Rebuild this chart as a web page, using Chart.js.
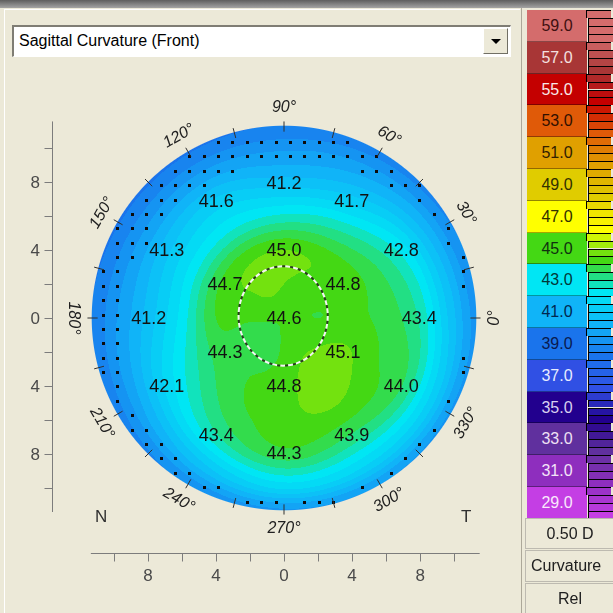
<!DOCTYPE html>
<html>
<head>
<meta charset="utf-8">
<script src="https://cdn.jsdelivr.net/npm/chart.js@4.4.1/dist/chart.umd.min.js"></script>
<style>
  html, body { margin: 0; padding: 0; background: #ece9d8; }
  body { width: 613px; height: 613px; position: relative; overflow: hidden; font-family: "Liberation Sans", Arial, sans-serif; }
  #topbar { position: absolute; left: 0; top: 0; width: 613px; height: 8px; background: linear-gradient(#5e5e5e, #a4a4a4); }
  #panel { position: absolute; left: 4px; top: 9px; width: 516px; height: 604px; border-left: 1px solid #fff; border-top: 1px solid #fff; box-sizing: border-box; }
  #divider { position: absolute; left: 521px; top: 8px; width: 1px; height: 605px; background: #aca899; }
  #chart { position: absolute; left: 0; top: 0; }
  #select { position: absolute; left: 12px; top: 25px; width: 499px; height: 32px; box-sizing: border-box; background: #fff;
            border-top: 2px solid #7f7d74; border-left: 2px solid #7f7d74; border-bottom: 1px solid #fff; border-right: 1px solid #fff;
            font-size: 16px; line-height: 28px; padding-left: 5px; color: #000; }
  #select .btn { position: absolute; right: 2px; top: 1px; width: 25px; height: 26px; box-sizing: border-box; background: #ece9d8;
                 border-top: 1px solid #fff; border-left: 1px solid #fff; border-right: 1px solid #716f64; border-bottom: 1px solid #716f64; }
  #select .btn:after { content: ""; position: absolute; left: 7px; top: 10px; border-left: 5px solid transparent; border-right: 5px solid transparent; border-top: 5px solid #000; }
  .box { position: absolute; left: 527px; width: 60px; box-sizing: border-box; border-bottom: 1px solid rgba(0,0,0,0.35);
         font-size: 16px; text-align: center; }
  .stripe { position: absolute; left: 588px; width: 25px; box-sizing: border-box; border-top: 1px solid #000; border-left: 1px solid #000; }
  .ctl { position: absolute; left: 525px; width: 90px; box-sizing: border-box; border: 1px solid #bdbab0; background: #ece9d8;
         font-size: 16px; color: #202020; white-space: nowrap; overflow: hidden; }
</style>
</head>
<body>
<div id="topbar"></div>
<div id="panel"></div>
<div id="divider"></div>
<canvas id="chart" width="613" height="613"></canvas>
<div id="select">Sagittal Curvature (Front)<div class="btn"></div></div>
<div id="legend"></div>
<div class="ctl" style="top:518px;height:31px;line-height:29px;text-align:center;">0.50 D</div>
<div class="ctl" style="top:550px;height:32px;line-height:30px;padding-left:5px;">Curvature</div>
<div class="ctl" style="top:583px;height:31px;line-height:29px;text-align:center;">Rel</div>
<script>
// colour scale (dioptres) as shown in the legend
const scaleValues = [59, 57, 55, 53, 51, 49, 47, 45, 43, 41, 39, 37, 35, 33, 31, 29]
const scaleColors = ["#d46c6c", "#a83636", "#c40000", "#e05a08", "#e0a000", "#e0cc00", "#ffff00", "#44d814",
                     "#00e6f4", "#10b4f8", "#1a74ec", "#3050e4", "#22008e", "#60309e", "#8e2ebe", "#c43ee4"]
const scaleTextColors = ["#401010", "#f4e0e0", "#f8e8e8", "#301000", "#302000", "#303000", "#303000", "#103010",
                         "#003838", "#002850", "#0a1a50", "#e8ecff", "#d8d0f0", "#eee0f4", "#f4e4f8", "#fae8fc"]
const stepSize = 0.5

// polar samples of the curvature map: radius (mm) x meridian (deg)
const radii = [0, 2, 4, 6, 8, 10, 11.4]
const meridians = [0, 30, 60, 90, 120, 150, 180, 210, 240, 270, 300, 330]
const kCenter = 44.6
const kR2 = [44.5, 44.6, 44.8, 45.0, 45.1, 44.9, 44.6, 44.2, 44.2, 44.6, 44.9, 44.8]
const kR4 = [44.6, 44.8, 44.9, 45.0, 44.9, 44.7, 44.5, 44.3, 44.5, 44.8, 45.3, 45.1]
const kR6 = [44.3, 44.1, 43.5, 43.1, 43.0, 42.8, 42.7, 43.4, 44.3, 44.8, 45.0, 44.6]
const kR8 = [43.4, 42.8, 41.7, 41.2, 41.6, 41.3, 41.2, 42.1, 43.4, 44.3, 43.9, 44.0]
const kR10 = [41.1, 40.7, 40.2, 39.9, 39.9, 39.8, 39.9, 40.3, 41.2, 42.1, 41.9, 41.7]
const kR11 = [39.7, 39.4, 39.2, 39.0, 38.9, 38.9, 39.0, 39.2, 39.5, 39.8, 39.9, 39.8]
const mapRadius = 11.3

// printed readings
const centerReading = 44.6
const innerAngles = [90, 30, 330, 270, 210, 150]
const innerReadings = [45.0, 44.8, 45.1, 44.8, 44.3, 44.7]
const outerAngles = [0, 30, 60, 90, 120, 150, 180, 210, 240, 270, 300, 330]
const outerReadings = [43.4, 42.8, 41.7, 41.2, 41.6, 41.3, 41.2, 42.1, 43.4, 44.3, 43.9, 44.0]
const innerRadius = 4.0
const outerRadius = 7.95

// extrapolated zone (dotted): inner edge radius per meridian
const dotEdge = [10.6, 10.3, 9.6, 8.9, 9.0, 9.2, 9.7, 10.3, 10.4, 10.8, 10.7, 10.8]
const dotStep = 0.845

// axes
const axisTicks = [-10, -8, -6, -4, -2, 0, 2, 4, 6, 8, 10]
const axisLabels = [-8, -4, 0, 4, 8]
const meridianLabels = [0, 30, 60, 90, 120, 150, 180, 210, 240, 270, 300, 330]

// ---------- colour helpers ----------
function hexRgb(h) {
  return [parseInt(h.slice(1, 3), 16), parseInt(h.slice(3, 5), 16), parseInt(h.slice(5, 7), 16)]
}
const anchorRgb = scaleColors.map(hexRgb)

// colour of the 0.5 D band that holds v (taken at the band's upper edge)
function bandRgb(v) {
  const b = Math.floor(v / stepSize) * stepSize + stepSize
  const n = scaleValues.length
  if (b >= scaleValues[0]) return anchorRgb[0]
  if (b <= scaleValues[n - 1]) return anchorRgb[n - 1]
  for (let i = 0; i < n - 1; i++) {
    const hi = scaleValues[i], lo = scaleValues[i + 1]
    if (b <= hi && b >= lo) {
      const t = (b - lo) / (hi - lo)
      const a = anchorRgb[i + 1], c = anchorRgb[i]
      return [0, 1, 2].map(k => Math.round(a[k] + (c[k] - a[k]) * t))
    }
  }
  return anchorRgb[n - 1]
}

// ---------- legend (HTML) ----------
const legend = document.getElementById("legend")
const boxH = 31.8
scaleValues.forEach((v, i) => {
  const top = 10 + i * boxH
  const box = document.createElement("div")
  box.className = "box"
  box.style.top = top + "px"
  box.style.height = boxH + "px"
  box.style.lineHeight = boxH + "px"
  box.style.background = scaleColors[i]
  box.style.color = scaleTextColors[i]
  box.textContent = v.toFixed(1)
  legend.appendChild(box)
  for (let s = 0; s < 4; s++) {
    const st = document.createElement("div")
    st.className = "stripe"
    st.style.top = (top + s * boxH / 4) + "px"
    st.style.height = (boxH / 4) + "px"
    st.style.background = "rgb(" + bandRgb(v + 1.5 - s * stepSize - 0.5).join(",") + ")"
    if (s === 0) st.style.left = "586px"
    legend.appendChild(st)
  }
})

// ---------- sampling of the polar grid ----------
const columns = meridians.map((m, i) => [kCenter, kR2[i], kR4[i], kR6[i], kR8[i], kR10[i], kR11[i]])

function catmull(p0, p1, p2, p3, t) {
  const t2 = t * t, t3 = t2 * t
  return 0.5 * (2 * p1 + (-p0 + p2) * t + (2 * p0 - 5 * p1 + 4 * p2 - p3) * t2 + (-p0 + 3 * p1 - 3 * p2 + p3) * t3)
}

function radialValue(col, r) {
  const n = radii.length
  if (r >= radii[n - 1]) return col[n - 1]
  let j = 0
  while (j < n - 2 && r > radii[j + 1]) j++
  const t = (r - radii[j]) / (radii[j + 1] - radii[j])
  const p0 = col[Math.max(0, j - 1)], p3 = col[Math.min(n - 1, j + 2)]
  return catmull(p0, col[j], col[j + 1], p3, t)
}

function curvatureAt(r, deg) {
  const m = meridians.length
  const a = (((deg % 360) + 360) % 360) / 30
  const i1 = Math.floor(a) % m
  const t = a - Math.floor(a)
  const i0 = (i1 - 1 + m) % m, i2 = (i1 + 1) % m, i3 = (i1 + 2) % m
  return catmull(radialValue(columns[i0], r), radialValue(columns[i1], r),
                 radialValue(columns[i2], r), radialValue(columns[i3], r), t)
}

function periodicLinear(arr, deg) {
  const m = arr.length
  const a = (((deg % 360) + 360) % 360) / (360 / m)
  const i = Math.floor(a) % m, t = a - Math.floor(a)
  return arr[i] + (arr[(i + 1) % m] - arr[i]) * t
}

// ---------- plugins ----------
const mapPlugin = {
  id: "curvatureMap",
  beforeDatasetsDraw(chart) {
    const { ctx, scales: { x, y } } = chart
    const cx = x.getPixelForValue(0), cy = y.getPixelForValue(0)
    const pxPerMm = x.getPixelForValue(1) - cx
    const rPx = mapRadius * pxPerMm
    const x0 = Math.floor(cx - rPx - 2), y0 = Math.floor(cy - rPx - 2)
    const w = Math.ceil(2 * rPx + 4), h = Math.ceil(2 * rPx + 4)
    const off = document.createElement("canvas")
    off.width = w; off.height = h
    const octx = off.getContext("2d")
    const img = octx.createImageData(w, h)
    for (let py = 0; py < h; py++) {
      for (let px = 0; px < w; px++) {
        const mx = x.getValueForPixel(x0 + px + 0.5)
        const my = y.getValueForPixel(y0 + py + 0.5)
        const r = Math.hypot(mx, my)
        const edge = (mapRadius - r) * pxPerMm + 0.5
        if (edge <= 0) continue
        const deg = Math.atan2(my, mx) * 180 / Math.PI
        const rgb = bandRgb(curvatureAt(r, deg))
        const k = (py * w + px) * 4
        img.data[k] = rgb[0]; img.data[k + 1] = rgb[1]; img.data[k + 2] = rgb[2]
        img.data[k + 3] = Math.round(255 * Math.min(1, edge))
      }
    }
    octx.putImageData(img, 0, 0)
    ctx.drawImage(off, x0, y0)

    // dotted extrapolation zone
    ctx.fillStyle = "#0c0c0c"
    const nMax = Math.ceil(mapRadius / dotStep) + 1
    for (let i = -nMax; i <= nMax; i++) {
      for (let j = -nMax; j <= nMax; j++) {
        const mx = 0.35 + i * dotStep, my = 0.2 + j * dotStep
        const r = Math.hypot(mx, my)
        if (r > mapRadius - 0.12) continue
        const deg = Math.atan2(my, mx) * 180 / Math.PI
        if (r < periodicLinear(dotEdge, deg)) continue
        ctx.fillRect(Math.round(x.getPixelForValue(mx)) - 1, Math.round(y.getPixelForValue(my)) - 1, 3, 3)
      }
    }

    // rim ticks every 15 degrees
    ctx.strokeStyle = "#303030"
    ctx.lineWidth = 1
    for (let d = 0; d < 360; d += 15) {
      const a = d * Math.PI / 180
      ctx.beginPath()
      ctx.moveTo(x.getPixelForValue(10.95 * Math.cos(a)), y.getPixelForValue(10.95 * Math.sin(a)))
      ctx.lineTo(x.getPixelForValue(11.55 * Math.cos(a)), y.getPixelForValue(11.55 * Math.sin(a)))
      ctx.stroke()
    }

    // pupil outline
    ctx.save()
    ctx.lineWidth = 2
    const ex = x.getPixelForValue(-0.05), ey = y.getPixelForValue(0.12)
    const rx = 2.62 * pxPerMm, ry = 2.92 * pxPerMm
    ctx.setLineDash([5, 3])
    ctx.strokeStyle = "#f4f4f4"
    ctx.beginPath(); ctx.ellipse(ex, ey, rx, ry, 0, 0, Math.PI * 2); ctx.stroke()
    ctx.setLineDash([3, 5])
    ctx.lineDashOffset = -5
    ctx.strokeStyle = "#2a3a20"
    ctx.beginPath(); ctx.ellipse(ex, ey, rx, ry, 0, 0, Math.PI * 2); ctx.stroke()
    ctx.restore()
  },
  afterDatasetsDraw(chart) {
    const { ctx, scales: { x, y } } = chart
    // readings
    const meta = chart.getDatasetMeta(0)
    ctx.save()
    ctx.font = "18px 'Liberation Sans', Arial, sans-serif"
    ctx.fillStyle = "#121212"
    ctx.textAlign = "center"
    ctx.textBaseline = "middle"
    meta.data.forEach((el, i) => {
      ctx.fillText(chart.data.datasets[0].data[i].k.toFixed(1), el.x, el.y + 1)
    })
    ctx.restore()

    // meridian labels
    ctx.save()
    ctx.font = "italic 16px 'Liberation Sans', Arial, sans-serif"
    ctx.fillStyle = "#202020"
    ctx.textAlign = "center"
    ctx.textBaseline = "middle"
    meridianLabels.forEach(d => {
      const a = d * Math.PI / 180
      const px = x.getPixelForValue(12.35 * Math.cos(a)), py = y.getPixelForValue(12.35 * Math.sin(a))
      const upper = d > 0 && d < 180
      const rot = (upper ? 90 - d : 270 - d) * Math.PI / 180
      ctx.save()
      ctx.translate(px, py)
      ctx.rotate(rot)
      ctx.fillText(d + "\u00b0", 0, 0)
      ctx.restore()
    })
    ctx.restore()

    // N / T
    ctx.save()
    ctx.font = "17px 'Liberation Sans', Arial, sans-serif"
    ctx.fillStyle = "#303030"
    ctx.textAlign = "center"
    ctx.textBaseline = "middle"
    ctx.fillText("N", x.getPixelForValue(-10.75), y.getPixelForValue(-11.7))
    ctx.fillText("T", x.getPixelForValue(10.7), y.getPixelForValue(-11.7))
    ctx.restore()
  },
  afterDraw(chart) {
    const { ctx, scales: { x, y } } = chart
    const axisX = 52.5, axisY = 553.5
    ctx.save()
    ctx.strokeStyle = "#7c7c7c"
    ctx.lineWidth = 1
    ctx.beginPath()
    ctx.moveTo(axisX, y.getPixelForValue(11.55))
    ctx.lineTo(axisX, y.getPixelForValue(-11.4))
    ctx.moveTo(x.getPixelForValue(-11.35), axisY)
    ctx.lineTo(x.getPixelForValue(11.5), axisY)
    axisTicks.forEach(t => {
      const py = Math.round(y.getPixelForValue(t)) + 0.5
      ctx.moveTo(axisX - 8, py); ctx.lineTo(axisX, py)
      const px = Math.round(x.getPixelForValue(t)) + 0.5
      ctx.moveTo(px, axisY); ctx.lineTo(px, axisY + 8)
    })
    ctx.stroke()
    ctx.font = "17px 'Liberation Sans', Arial, sans-serif"
    ctx.fillStyle = "#4a4a4a"
    ctx.textBaseline = "middle"
    axisLabels.forEach(t => {
      ctx.textAlign = "right"
      ctx.fillText(String(Math.abs(t)), 40, y.getPixelForValue(t) + 1)
      ctx.textAlign = "center"
      ctx.fillText(String(Math.abs(t)), x.getPixelForValue(t), 576)
    })
    ctx.restore()
  }
}

// reading positions from polar positions
const readings = [{ x: 0, y: 0, k: centerReading }]
innerAngles.forEach((a, i) => readings.push({
  x: innerRadius * Math.cos(a * Math.PI / 180), y: innerRadius * Math.sin(a * Math.PI / 180), k: innerReadings[i] }))
outerAngles.forEach((a, i) => readings.push({
  x: outerRadius * Math.cos(a * Math.PI / 180), y: outerRadius * Math.sin(a * Math.PI / 180), k: outerReadings[i] }))

new Chart(document.getElementById("chart"), {
  type: "scatter",
  data: {
    datasets: [{ label: "Sagittal curvature (D)", data: readings, pointRadius: 0, pointHoverRadius: 0 }]
  },
  options: {
    responsive: false,
    maintainAspectRatio: false,
    animation: false,
    events: [],
    layout: { padding: { left: 90, right: 135, top: 124, bottom: 101 } },
    scales: {
      x: { type: "linear", min: -11.4, max: 11.4, display: false },
      y: { type: "linear", min: -11.4, max: 11.4, display: false }
    },
    plugins: { legend: { display: false }, tooltip: { enabled: false } }
  },
  plugins: [mapPlugin]
})
</script>
</body>
</html>
